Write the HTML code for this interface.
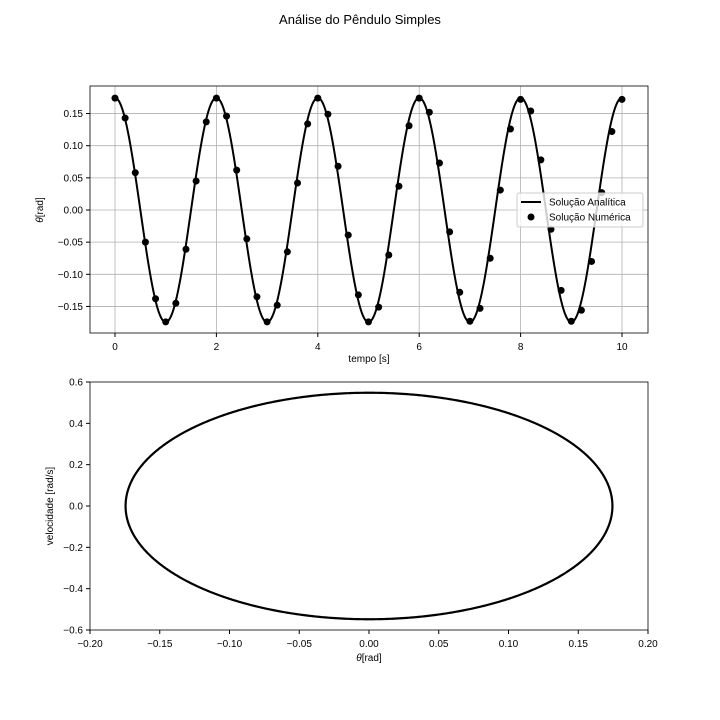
<!DOCTYPE html>
<html><head><meta charset="utf-8"><style>
body{margin:0;background:#fff}
svg{display:block;font-family:"Liberation Sans","DejaVu Sans",sans-serif}
</style></head><body>
<svg id="fig" width="720" height="720" viewBox="0 0 720 720">
<rect width="720" height="720" fill="#fff"/>
<text x="360" y="24" text-anchor="middle" font-size="13">Análise do Pêndulo Simples</text>
<g id="topPlot"></g>
<g id="botPlot"></g>
</svg>
<script>
const timeTicks=[0,2,4,6,8,10];
const thetaTicks=[0.15,0.10,0.05,0.00,-0.05,-0.10,-0.15];
const numT=[0,0.2,0.4,0.6,0.8,1.0,1.2,1.4,1.6,1.8,2.0,2.2,2.4,2.6,2.8,3.0,3.2,3.4,3.6,3.8,4.0,4.2,4.4,4.6,4.8,5.0,5.2,5.4,5.6,5.8,6.0,6.2,6.4,6.6,6.8,7.0,7.2,7.4,7.6,7.8,8.0,8.2,8.4,8.6,8.8,9.0,9.2,9.4,9.6,9.8,10.0];
const numTheta=[0.174,0.143,0.058,-0.05,-0.138,-0.174,-0.145,-0.061,0.045,0.137,0.174,0.146,0.062,-0.045,-0.135,-0.174,-0.148,-0.065,0.042,0.134,0.174,0.149,0.068,-0.039,-0.132,-0.174,-0.151,-0.07,0.037,0.131,0.174,0.152,0.073,-0.034,-0.128,-0.173,-0.153,-0.075,0.031,0.126,0.172,0.154,0.078,-0.03,-0.125,-0.173,-0.156,-0.08,0.027,0.122,0.172];
const amplitude=0.1745;
const omega=Math.PI;
const vAmplitude=0.548;
const phaseXTicks=[-0.20,-0.15,-0.10,-0.05,0.00,0.05,0.10,0.15,0.20];
const phaseYTicks=[0.6,0.4,0.2,0.0,-0.2,-0.4,-0.6];

const NS="http://www.w3.org/2000/svg";
function mk(p,tag,a){const e=document.createElementNS(NS,tag);for(const k in a)e.setAttribute(k,a[k]);p.appendChild(e);return e;}
const topG=document.getElementById('topPlot'),botG=document.getElementById('botPlot');

const L=90,R=648,T=86,B=333;
const xs=t=>115+(t-0)*(622-115)/10;
const ys=v=>210-v*643;
timeTicks.forEach(t=>{
 const g=mk(topG,'line',{x1:xs(t),x2:xs(t),y1:T,y2:B,stroke:'#b0b0b0','stroke-width':0.8});
 
 mk(topG,'line',{x1:xs(t),x2:xs(t),y1:B,y2:B+4,stroke:'#000'});
 const tx=mk(topG,'text',{x:xs(t),y:B+17,'text-anchor':'middle','font-size':10});tx.textContent=t;
 
});
thetaTicks.forEach(v=>{
 const g=mk(topG,'line',{x1:L,x2:R,y1:ys(v),y2:ys(v),stroke:'#b0b0b0','stroke-width':0.8});
 
 mk(topG,'line',{x1:L-4,x2:L,y1:ys(v),y2:ys(v),stroke:'#000'});
 const tx=mk(topG,'text',{x:L-7,y:ys(v)+3.5,'text-anchor':'end','font-size':10});tx.textContent=v.toFixed(2).replace('-','−');
 
});
let d='';for(let i=0;i<=1000;i++){const t=i/100;d+=(i?'L':'M')+xs(t).toFixed(2)+','+ys(amplitude*Math.cos(omega*t)).toFixed(2);}
const ln=mk(topG,'path',{d:d,fill:'none',stroke:'#000','stroke-width':2});

numT.forEach((t,i)=>{const c=mk(topG,'circle',{cx:xs(t),cy:ys(numTheta[i]),r:3.5,fill:'#000'});
 });
mk(topG,'rect',{x:L,y:T,width:R-L,height:B-T,fill:'none',stroke:'#000','stroke-width':0.8});
let t1=mk(topG,'text',{x:369,y:362,'text-anchor':'middle','font-size':10});t1.textContent='tempo [s]';

let t2=mk(topG,'text',{x:0,y:0,'text-anchor':'middle','font-size':10,transform:'translate(43,210) rotate(-90)'});t2.innerHTML='<tspan font-style="italic">θ</tspan>[rad]';

const lg=mk(topG,'g',{});
mk(lg,'rect',{x:517,y:193,width:126,height:34,rx:2,fill:'#fff','fill-opacity':0.8,stroke:'#ccc'});
mk(lg,'line',{x1:521,x2:541,y1:202,y2:202,stroke:'#000','stroke-width':2});
let l1=mk(lg,'text',{x:549,y:205.5,'font-size':10});l1.textContent='Solução Analítica';

mk(lg,'circle',{cx:531,cy:217,r:3.5,fill:'#000'});
let l2=mk(lg,'text',{x:549,y:220.5,'font-size':10});l2.textContent='Solução Numérica';


const T2=382,B2=630;
const px=v=>L+(v+0.2)*(R-L)/0.4;
const py=v=>T2+(0.6-v)*(B2-T2)/1.2;
phaseXTicks.forEach(v=>{
 mk(botG,'line',{x1:px(v),x2:px(v),y1:B2,y2:B2+4,stroke:'#000'});
 const tx=mk(botG,'text',{x:px(v),y:B2+17,'text-anchor':'middle','font-size':10});tx.textContent=v.toFixed(2).replace('-','−');
 
});
phaseYTicks.forEach(v=>{
 mk(botG,'line',{x1:L-4,x2:L,y1:py(v),y2:py(v),stroke:'#000'});
 const tx=mk(botG,'text',{x:L-7,y:py(v)+3.5,'text-anchor':'end','font-size':10});tx.textContent=v.toFixed(1).replace('-','−');
 
});
let d2='';for(let i=0;i<=720;i++){const a=i/720*2*Math.PI;d2+=(i?'L':'M')+px(amplitude*Math.cos(a)).toFixed(2)+','+py(-vAmplitude*Math.sin(a)).toFixed(2);}
const el=mk(botG,'path',{d:d2,fill:'none',stroke:'#000','stroke-width':2.2});

mk(botG,'rect',{x:L,y:T2,width:R-L,height:B2-T2,fill:'none',stroke:'#000','stroke-width':0.8});
let t3=mk(botG,'text',{x:369,y:661,'text-anchor':'middle','font-size':10});t3.innerHTML='<tspan font-style="italic">θ</tspan>[rad]';

let t4=mk(botG,'text',{x:0,y:0,'text-anchor':'middle','font-size':10,transform:'translate(53,506) rotate(-90)'});t4.textContent='velocidade [rad/s]';

</script>
</body></html>
